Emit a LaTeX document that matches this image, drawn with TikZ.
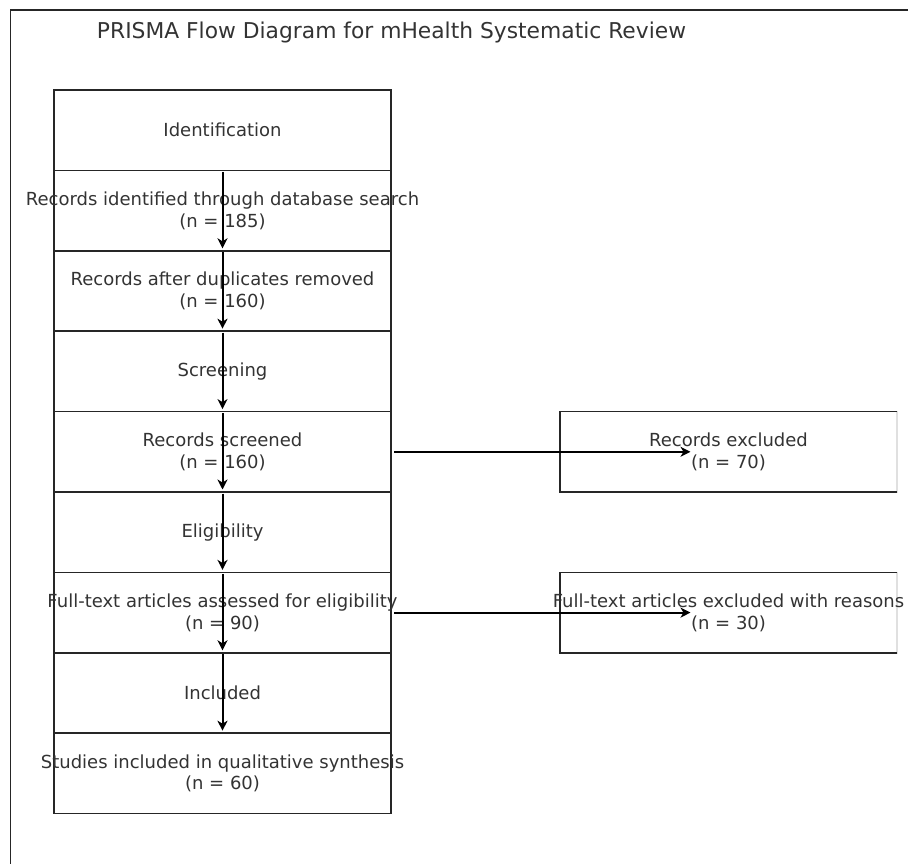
\documentclass[tikz,border=0pt]{standalone}
\usepackage{fontspec}
\setmainfont{DejaVu Sans}
\usetikzlibrary{arrows.meta}
\begin{document}
\begin{tikzpicture}[x=1pt,y=-1pt,
  box/.style={draw=black!85,line width=1.5pt,minimum width=337pt,minimum height=80.4pt,inner sep=0pt,outer sep=0pt},
  rbox/.style={draw=black!12,line width=1.5pt,minimum width=337pt,minimum height=80.4pt,inner sep=0pt,outer sep=0pt},
  lbl/.style={text=black!80,font=\fontsize{18}{21.5}\selectfont,align=center,inner sep=0pt},
  ttl/.style={text=black!80,font=\fontsize{21.8}{26}\selectfont,inner sep=0pt},
  arr/.style={draw=black,line width=2pt,-{Stealth[length=10pt,width=10pt,inset=3pt]}},
  frame/.style={draw=black!85,line width=1.2pt}]
\useasboundingbox (0,0) rectangle (908,864);
\draw[frame] (10.5,864) -- (10.5,10) -- (908,10);
\node[ttl] (title) at (391.5,32) {PRISMA Flow Diagram for mHealth Systematic Review};
% left column boxes
\node[box] (b0) at (222.5,130.2) {};
\node[box] (b1) at (222.5,210.6) {};
\node[box] (b2) at (222.5,291.0) {};
\node[box] (b3) at (222.5,371.4) {};
\node[box] (b4) at (222.5,451.8) {};
\node[box] (b5) at (222.5,532.2) {};
\node[box] (b6) at (222.5,612.6) {};
\node[box] (b7) at (222.5,693.0) {};
\node[box] (b8) at (222.5,773.4) {};
% right boxes
\node[rbox] (ex1) at (728.5,451.8) {};
\node[rbox] (ex2) at (728.5,612.6) {};
\draw[draw=black!85,line width=1.5pt] (ex1.north east) -- (ex1.north west) -- (ex1.south west) -- (ex1.south east);
\draw[draw=black!85,line width=1.5pt] (ex2.north east) -- (ex2.north west) -- (ex2.south west) -- (ex2.south east);
% labels
\node[lbl] (t0) at (b0) {Identification};
\node[lbl] (t1) at (b1) {Records identified through database search\\(n = 185)};
\node[lbl] (t2) at (b2) {Records after duplicates removed\\(n = 160)};
\node[lbl] (t3) at (b3) {Screening};
\node[lbl] (t4) at (b4) {Records screened\\(n = 160)};
\node[lbl] (t5) at (b5) {Eligibility};
\node[lbl] (t6) at (b6) {Full-text articles assessed for eligibility\\(n = 90)};
\node[lbl] (t7) at (b7) {Included};
\node[lbl] (t8) at (b8) {Studies included in qualitative synthesis\\(n = 60)};
\node[lbl] (te1) at (ex1) {Records excluded\\(n = 70)};
\node[lbl] (te2) at (ex2) {Full-text articles excluded with reasons\\(n = 30)};
% arrows
\draw[arr] ([yshift=-1.5pt]b0.south) -- ([yshift=2.5pt]b1.south);
\draw[arr] ([yshift=-1.5pt]b1.south) -- ([yshift=2.5pt]b2.south);
\draw[arr] ([yshift=-1.5pt]b2.south) -- ([yshift=2.5pt]b3.south);
\draw[arr] ([yshift=-1.5pt]b3.south) -- ([yshift=2.5pt]b4.south);
\draw[arr] ([yshift=-1.5pt]b4.south) -- ([yshift=2.5pt]b5.south);
\draw[arr] ([yshift=-1.5pt]b5.south) -- ([yshift=2.5pt]b6.south);
\draw[arr] ([yshift=-1.5pt]b6.south) -- ([yshift=2.5pt]b7.south);
\draw[arr] ([xshift=3pt]b4.east) -- ([xshift=-38pt]ex1.center);
\draw[arr] ([xshift=3pt]b6.east) -- ([xshift=-38pt]ex2.center);
\end{tikzpicture}
\end{document}
